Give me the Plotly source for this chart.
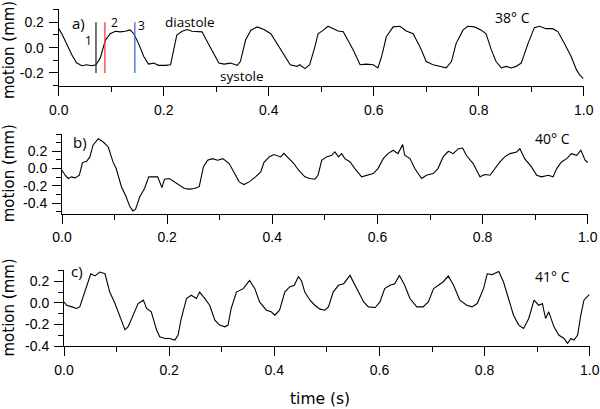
import plotly.graph_objects as go

# ---------------- data ----------------
ta = [0, 0.006, 0.015, 0.025, 0.034, 0.044, 0.053, 0.063, 0.071, 0.079,
      0.089, 0.098, 0.108, 0.117, 0.127, 0.136, 0.143, 0.152, 0.162, 0.171,
      0.181, 0.19, 0.203, 0.213, 0.219, 0.225, 0.235, 0.245, 0.254, 0.264,
      0.273, 0.283, 0.296, 0.305, 0.315, 0.327, 0.34, 0.346, 0.356, 0.366,
      0.378, 0.391, 0.404, 0.416, 0.429, 0.441, 0.454,
      0.459, 0.469, 0.478, 0.488, 0.494, 0.504, 0.513, 0.523, 0.532, 0.542,
      0.551, 0.561, 0.574, 0.586, 0.599, 0.608, 0.615, 0.624, 0.637, 0.650,
      0.662, 0.675, 0.688, 0.700, 0.713, 0.725, 0.738, 0.748, 0.757, 0.770,
      0.779, 0.792, 0.805, 0.814, 0.824, 0.833, 0.843, 0.852, 0.862, 0.871,
      0.881, 0.894, 0.906, 0.916, 0.928, 0.941, 0.951, 0.963, 0.976, 0.986,
      0.992, 0.999]
ya = [0.15, 0.11, 0.03, -0.057, -0.12, -0.143, -0.135, -0.143, -0.135, -0.083,
      0.06, 0.11, 0.13, 0.125, 0.13, 0.14, 0.11, 0.034, -0.07, -0.13,
      -0.122, -0.14, -0.14, -0.135, -0.018, 0.10, 0.13, 0.143, 0.13, 0.13,
      0.125, 0.047, -0.057, -0.122, -0.13, -0.122, -0.14, -0.11, 0.06, 0.138,
      0.164, 0.143, 0.11, 0.034, -0.057, -0.135, -0.148,
      -0.135, -0.166, -0.135, 0.008, 0.11, 0.138, 0.169, 0.15, 0.132, 0.125,
      0.06, -0.018, -0.135, -0.13, -0.135, -0.16, -0.07, 0.086, 0.164, 0.169,
      0.132, 0.11, 0.008, -0.11, -0.135, -0.148, -0.16, -0.11, 0.034, 0.138,
      0.169, 0.164, 0.138, 0.11, -0.018, -0.11, -0.16, -0.148, -0.16, -0.148,
      -0.122, 0.034, 0.158, 0.169, 0.15, 0.15, 0.125, 0.034, -0.07, -0.174,
      -0.213, -0.244]

tb = [0, 0.006, 0.012, 0.018, 0.025, 0.033, 0.039, 0.047, 0.053, 0.059,
      0.069, 0.078, 0.088, 0.097, 0.103, 0.113, 0.122, 0.129, 0.135, 0.140,
      0.148, 0.157, 0.165, 0.173, 0.182, 0.19, 0.195, 0.204, 0.214, 0.223,
      0.233, 0.242, 0.252, 0.261, 0.269, 0.277, 0.286, 0.296, 0.306, 0.318,
      0.327, 0.337, 0.346, 0.356, 0.368, 0.378, 0.384, 0.394, 0.403, 0.416,
      0.422, 0.432, 0.441, 0.45,
      0.462, 0.471, 0.481, 0.487, 0.494, 0.503, 0.513, 0.519, 0.526, 0.532,
      0.538, 0.548, 0.557, 0.57, 0.579, 0.592, 0.601, 0.611, 0.62, 0.63,
      0.639, 0.648, 0.652, 0.662, 0.671, 0.684, 0.693, 0.706, 0.715, 0.725,
      0.735, 0.744, 0.754, 0.762, 0.769, 0.782, 0.795, 0.804, 0.814, 0.823,
      0.833, 0.842, 0.852, 0.865, 0.871, 0.88, 0.893, 0.903, 0.912, 0.925,
      0.934, 0.941, 0.950, 0.96, 0.969, 0.979, 0.987, 0.995, 1.0]
yb = [-0.02, -0.077, -0.115, -0.096, -0.108, -0.077, 0.069, 0.085, 0.135, 0.27,
      0.346, 0.31, 0.25, 0.077, 0, -0.21, -0.327, -0.44, -0.49, -0.47,
      -0.327, -0.23, -0.096, -0.096, -0.096, -0.22, -0.123, -0.115, -0.154, -0.185,
      -0.23, -0.238, -0.23, -0.21, 0.019, 0.096, 0.115, 0.096, 0.115, 0.058,
      -0.038, -0.154, -0.185, -0.154, -0.096, -0.038, 0.069, 0.135, 0.162, 0.135,
      0.177, 0.115, 0.058, -0.019,
      -0.096, -0.115, -0.123, -0.077, 0.096, 0.135, 0.154, 0.192, 0.135, 0.173,
      0.115, 0.077, 0, -0.096, -0.077, -0.058, 0, 0.115, 0.173, 0.212,
      0.173, 0.277, 0.154, 0.115, 0, -0.115, -0.077, -0.058, 0, 0.135,
      0.2, 0.173, 0.23, 0.238, 0.154, 0.058, -0.096, -0.069, -0.077, 0,
      0.077, 0.135, 0.173, 0.192, 0.23, 0.115, 0.019, -0.077, -0.096, -0.077,
      -0.096, 0, 0.077, 0.115, 0.173, 0.154, 0.212, 0.096, 0.069]

tc = [0, 0.005, 0.015, 0.024, 0.03, 0.037, 0.043, 0.051, 0.059, 0.068,
      0.078, 0.087, 0.097, 0.106, 0.116, 0.122, 0.132, 0.141, 0.151, 0.157,
      0.166, 0.176, 0.182, 0.192, 0.201, 0.211, 0.217, 0.223, 0.233, 0.242,
      0.252, 0.258, 0.268, 0.277, 0.287, 0.296, 0.306, 0.312, 0.318, 0.328,
      0.341, 0.353, 0.363, 0.372, 0.385, 0.394, 0.401, 0.41, 0.42, 0.429,
      0.438, 0.446, 0.452, 0.458, 0.468, 0.477, 0.487, 0.496, 0.503, 0.512,
      0.522, 0.532, 0.544, 0.557, 0.57, 0.579, 0.592, 0.601, 0.61, 0.62,
      0.629, 0.638, 0.648, 0.658, 0.671, 0.683, 0.693, 0.703, 0.712, 0.721,
      0.731, 0.741, 0.753, 0.766, 0.776, 0.786, 0.798, 0.805, 0.814, 0.827,
      0.836, 0.846, 0.855, 0.865, 0.874, 0.884, 0.894, 0.903, 0.91, 0.916,
      0.922, 0.932, 0.941, 0.951, 0.958, 0.964, 0.97, 0.977, 0.983, 0.989,
      0.999]
yc = [0.009, -0.022, -0.037, -0.052, -0.037, 0.071, 0.163, 0.27, 0.25, 0.286,
      0.27, 0.1, -0.006, -0.13, -0.25, -0.22, -0.098, -0.006, 0.025, -0.052,
      -0.083, -0.25, -0.314, -0.33, -0.33, -0.345, -0.298, -0.145, 0.04, 0.071,
      0.04, 0.1, 0.04, -0.022, -0.16, -0.206, -0.222, -0.206, -0.052, 0.1,
      0.132, 0.209, 0.132, 0.009, -0.068, -0.083, -0.114, -0.068, 0.1, 0.148,
      0.163, 0.245, 0.2, 0.1, 0.025, -0.022, -0.058, -0.068, -0.037, 0.1,
      0.163, 0.178, 0.255, 0.132, 0.009, -0.037, -0.043, 0.009, 0.132, 0.163,
      0.178, 0.255, 0.163, 0.04, -0.037, -0.037, 0.009, 0.132, 0.163, 0.194,
      0.249, 0.163, 0.025, -0.022, -0.037, -0.006, 0.132, 0.27, 0.262, 0.292,
      0.194, 0.025, -0.114, -0.206, -0.237, -0.145, 0.025, -0.022, -0.006, -0.145,
      -0.083, -0.222, -0.298, -0.33, -0.375, -0.33, -0.345, -0.298, -0.114, 0.025,
      0.077]

panel_labels = ["a)", "b)", "c)"]
temp_labels = ["38° C", "40° C", "41° C"]
marker_times = [0.071, 0.088, 0.145]
marker_names = ["1", "2", "3"]
marker_colors = ["#2a2a2a", "#ff3a3a", "#3d6fd4"]
marker_span = [-0.2, 0.2]

x_tickvals = [0, 0.2, 0.4, 0.6, 0.8, 1.0]
x_ticktext = ["0.0", "0.2", "0.4", "0.6", "0.8", "1.0"]
ya_ticks = ([-0.2, 0, 0.2], ["-0.2", "0.0", "0.2"])
yb_ticks = ([-0.4, -0.2, 0, 0.2], ["-0.4", "-0.2", "0.0", "0.2"])
yc_ticks = ([-0.4, -0.2, 0, 0.2], ["-0.4", "-0.2", "0.0", "0.2"])

# ---------------- layout helpers ----------------
W, H = 600, 409
def pxx(x):
    return x / W
def pxy(y):
    return 1 - y / H

TICKFONT = dict(family="Liberation Sans", size=14, color="black")
LBLFONT = "Open Sans"

def xaxis(dom, anchor):
    return dict(domain=[pxx(dom[0]), pxx(dom[1])], anchor=anchor, range=[0, 1.0005],
                automargin=False,
                showline=True, linecolor="black", linewidth=1, showgrid=False, zeroline=False,
                ticks="outside", ticklen=9, tickwidth=1, tickcolor="black",
                tickmode="array", tickvals=x_tickvals, ticktext=x_ticktext,
                minor=dict(ticks="outside", ticklen=5, tickwidth=1, tickcolor="black",
                           tickmode="array", tickvals=[0.1, 0.3, 0.5, 0.7, 0.9], showgrid=False),
                tickfont=TICKFONT, ticklabelstandoff=2)

def yaxis(dom, anchor, rng, ticks, minor_vals):
    return dict(domain=[pxy(dom[1]), pxy(dom[0])], anchor=anchor, range=rng,
                automargin=False,
                showline=True, linecolor="black", linewidth=1, showgrid=False, zeroline=False,
                ticks="outside", ticklen=9, tickwidth=1, tickcolor="black",
                tickmode="array", tickvals=ticks[0], ticktext=ticks[1],
                minor=dict(ticks="outside", ticklen=5, tickwidth=1, tickcolor="black",
                           tickmode="array", tickvals=minor_vals, showgrid=False),
                tickfont=TICKFONT, ticklabelstandoff=2)

fig = go.Figure()
line = dict(color="black", width=1.1)
fig.add_trace(go.Scatter(x=ta, y=ya, mode="lines", line=line, xaxis="x", yaxis="y", showlegend=False))
fig.add_trace(go.Scatter(x=tb, y=yb, mode="lines", line=line, xaxis="x2", yaxis="y2", showlegend=False))
fig.add_trace(go.Scatter(x=tc, y=yc, mode="lines", line=line, xaxis="x3", yaxis="y3", showlegend=False))

fig.update_layout(
    width=W, height=H, margin=dict(l=0, r=0, t=0, b=0, autoexpand=False),
    paper_bgcolor="white", plot_bgcolor="white",
    xaxis=xaxis((58.7, 584), "y"),
    yaxis=yaxis((9.3, 86), "x", [-0.303, 0.303], ya_ticks, [-0.3, -0.1, 0.1, 0.3]),
    xaxis2=xaxis((62, 588), "y2"),
    yaxis2=yaxis((134, 213.5), "x2", [-0.52, 0.40], yb_ticks, [-0.5, -0.3, -0.1, 0.1, 0.3, 0.4]),
    xaxis3=xaxis((64, 590), "y3"),
    yaxis3=yaxis((270, 346), "x3", [-0.4, 0.305], yc_ticks, [-0.3, -0.1, 0.1, 0.3]),
)

# marker lines in panel a
for t, c in zip(marker_times, marker_colors):
    fig.add_shape(type="line", xref="x", yref="y", x0=t, x1=t, y0=marker_span[0], y1=marker_span[1],
                  line=dict(color=c, width=1.3))

ann = []
def A(text, x, y, size, family=LBLFONT, **kw):
    ann.append(dict(text=text, x=pxx(x), y=pxy(y), xref="paper", yref="paper", showarrow=False,
                    xanchor="center", yanchor="middle", font=dict(family=family, size=size, color="black"), **kw))

# marker numbers (positioned in pixel space next to lines)
for name, (lx, ly) in zip(marker_names, [(88, 41), (114, 22), (141, 26)]):
    A(name, lx, ly, 12)

for lab, (lx, ly) in zip(panel_labels, [(79, 23), (80, 142), (77, 271)]):
    A(lab, lx, ly, 15)
for lab, (lx, ly) in zip(temp_labels, [(512, 18), (552, 139), (552, 276)]):
    A(lab, lx, ly, 14)
A("diastole", 190, 22, 13.5)
A("systole", 242, 76, 13.5)

for cy in [50.5, 173.8, 308]:
    A("motion (mm)", 8.5, cy, 15, family="DejaVu Sans", textangle=-90)
A("time (s)", 320.3, 399, 15.5, family="DejaVu Sans")

fig.update_layout(annotations=ann)
fig.write_html("out.html", config={"displayModeBar": False},
               post_script="document.body.style.margin='0px';")
